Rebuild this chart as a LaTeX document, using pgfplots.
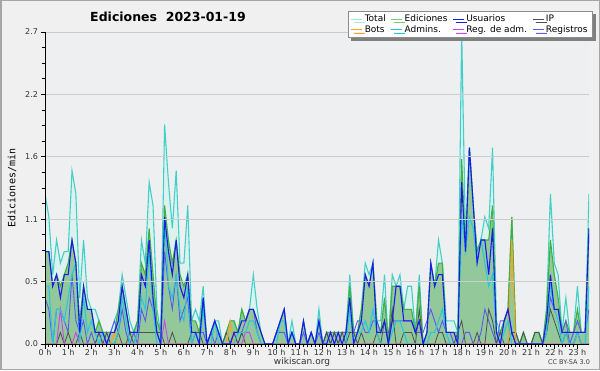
\documentclass[border=0pt]{standalone}
\usepackage{fontspec}
\setmainfont{DejaVu Sans}
\setmonofont{DejaVu Sans Mono}
\usepackage{pgfplots}
\pgfplotsset{compat=1.18}
\usepackage{pgfplotstable}
\usetikzlibrary{shadows}

\definecolor{outerbg}{HTML}{F0F0F0}
\definecolor{plotbg}{HTML}{EDEFF1}
\definecolor{totline}{HTML}{40D0C8}
\definecolor{totfill}{HTML}{DCF2EE}
\definecolor{totleg}{HTML}{A0E8E0}
\definecolor{edline}{HTML}{40B040}
\definecolor{edleg}{HTML}{70D070}
\definecolor{edfill}{HTML}{92C89A}
\definecolor{usline}{HTML}{1A1AF0}
\definecolor{ipline}{HTML}{505050}
\definecolor{botline}{HTML}{FFA020}
\definecolor{admline}{HTML}{20C8E0}
\definecolor{regadm}{HTML}{D040F0}
\definecolor{regline}{HTML}{5A5AF0}

\pgfplotstableread{
i T E U I B A M R
0 1.3 0.8 0.8 0 0 0.5 0 0.4
1 1.1 0.8 0.8 0 0 0.5 0 0.3
2 0.6 0.5 0.5 0 0 0 0 0
3 0.9 0.6 0.6 0 0 0.3 0 0.3
4 0.7 0.5 0.4 0.1 0 0.3 0.3 0.3
5 0.8 0.6 0.6 0 0 0.2 0 0.2
6 0.8 0.7 0.6 0.1 0 0.4 0 0.1
7 1.5 0.9 0.9 0 0 0.6 0 0.6
8 1.3 0.7 0.7 0 0 0.7 0.1 0.2
9 0.4 0.2 0.1 0.1 0 0 0 0.1
10 0.9 0.5 0.5 0 0 0.4 0 0.2
11 0.4 0.3 0.3 0 0 0.1 0 0
12 0.3 0.3 0.3 0 0 0.2 0 0.1
13 0.3 0.1 0.1 0 0 0.1 0 0
14 0.2 0.2 0.1 0.1 0 0 0 0.1
15 0.1 0.1 0.1 0 0 0.1 0 0
16 0.1 0.1 0 0.1 0 0 0 0
17 0.1 0.1 0.1 0 0 0 0 0.1
18 0.2 0.1 0.1 0 0.1 0 0 0.2
19 0.3 0.3 0.2 0.1 0 0.1 0 0.1
20 0.6 0.5 0.5 0 0 0.4 0 0.3
21 0.4 0.3 0.3 0 0 0.2 0 0.1
22 0.2 0.1 0.1 0.1 0 0 0 0
23 0.1 0.1 0.1 0 0 0 0 0.1
24 0.2 0.2 0.1 0.1 0 0.1 0 0
25 0.9 0.7 0.6 0.1 0 0.4 0 0.3
26 0.7 0.6 0.5 0.1 0 0.3 0 0.2
27 1.4 1.0 0.9 0.1 0 0.8 0 0.4
28 1.2 0.6 0.4 0.1 0 0.3 0 0.3
29 0.3 0.2 0.1 0.1 0 0 0 0.1
30 0.1 0.1 0 0.1 0 0 0 0
31 1.9 1.2 1.1 0 0 1.1 0.2 0.8
32 1.4 0.9 0.8 0 0 0.5 0 0.5
33 1.0 0.7 0.6 0.1 0 0.4 0 0.3
34 1.5 0.9 0.9 0 0 0.6 0 0.6
35 0.7 0.6 0.5 0 0 0.3 0 0.2
36 0.7 0.5 0.4 0 0 0.2 0 0.3
37 1.2 0.6 0.6 0 0 0.5 0 0.4
38 0.2 0.2 0.1 0.1 0 0 0 0
39 0.3 0.2 0.1 0.1 0 0.1 0 0.1
40 0.2 0.1 0 0.1 0 0 0 0.1
41 0.5 0.4 0.4 0 0 0.3 0 0.1
42 0 0 0 0 0 0 0 0
43 0.1 0.1 0.1 0 0 0 0 0.1
44 0.2 0.2 0.2 0 0 0.2 0 0
45 0.2 0.1 0.1 0 0 0 0 0.1
46 0 0 0 0 0 0 0 0
47 0.1 0.1 0 0.1 0 0 0 0
48 0.2 0.2 0 0 0.2 0 0 0
49 0.2 0.2 0.1 0.1 0 0 0 0.1
50 0.1 0.1 0.1 0 0 0.1 0 0
51 0.3 0.3 0.2 0.1 0 0.1 0 0.1
52 0.2 0.2 0.2 0 0 0.1 0.1 0.2
53 0.3 0.3 0.3 0 0 0.2 0.1 0.3
54 0.6 0.3 0.3 0 0 0.2 0 0.3
55 0.3 0.2 0.2 0 0 0.1 0 0.1
56 0.1 0.1 0.1 0 0 0 0 0
57 0 0 0 0 0 0 0 0
58 0 0 0 0 0 0 0 0
59 0 0 0 0 0 0 0 0
60 0.1 0.1 0.1 0 0 0 0 0.1
61 0.2 0.2 0.2 0 0 0.2 0 0.1
62 0.3 0.3 0.3 0 0 0.2 0 0.1
63 0 0 0 0 0 0 0 0
64 0.2 0.1 0.1 0 0 0.1 0 0.1
65 0 0 0 0 0 0 0 0
66 0 0 0 0 0 0 0 0
67 0.2 0.2 0.2 0 0 0 0 0.1
68 0 0 0 0 0 0 0 0
69 0.1 0.1 0.1 0 0 0 0 0.1
70 0 0 0 0 0 0 0 0
71 0.3 0.2 0.2 0 0 0.2 0 0.1
72 0 0 0 0 0 0 0 0
73 0.1 0.1 0 0.1 0 0 0 0.1
74 0.1 0.1 0.1 0 0 0 0 0
75 0.1 0.1 0 0.1 0 0 0 0.1
76 0.1 0.1 0.1 0 0 0 0 0
77 0.1 0.1 0 0.1 0 0 0 0.1
78 0.1 0.1 0.1 0 0 0 0 0.1
79 0.6 0.5 0.4 0.1 0 0.3 0 0.1
80 0.1 0.1 0 0.1 0 0 0 0.1
81 0.1 0.1 0.1 0 0 0.1 0 0.2
82 0.3 0.3 0.2 0.1 0 0.1 0 0.2
83 0.7 0.6 0.6 0 0 0.2 0 0.1
84 0.6 0.5 0.5 0 0 0.1 0 0.1
85 0.7 0.7 0.7 0 0 0.3 0 0.2
86 0.2 0.2 0.1 0.1 0 0.1 0 0.2
87 0.2 0.1 0.1 0 0 0 0 0.1
88 0.6 0.4 0.2 0.2 0 0 0 0.1
89 0 0 0 0 0 0 0 0.1
90 0.6 0.5 0.2 0.3 0 0.1 0 0.2
91 0.5 0.5 0.5 0 0 0.2 0 0.2
92 0.6 0.5 0.5 0 0 0.2 0 0.2
93 0.3 0.3 0.2 0.1 0 0.1 0 0.2
94 0.5 0.3 0.2 0.1 0 0 0 0.2
95 0.5 0.3 0.2 0.1 0 0 0 0.2
96 0.1 0.1 0.1 0 0 0 0 0.1
97 0.6 0.5 0.2 0.3 0 0 0 0.1
98 0 0 0 0 0 0 0 0.1
99 0.1 0.1 0.1 0 0 0 0 0.2
100 0.7 0.7 0.7 0 0 0.1 0 0.3
101 0.5 0.5 0.5 0 0 0.1 0 0.2
102 0.9 0.7 0.6 0.1 0 0.2 0 0.1
103 0.7 0.7 0.6 0.1 0 0.3 0 0.2
104 0.2 0.1 0.1 0 0 0.1 0 0.1
105 0.2 0.1 0.1 0 0 0 0 0.1
106 0.2 0.1 0.1 0 0 0 0 0
107 0.1 0.1 0 0.1 0 0 0 0
108 2.7 1.6 1.4 0.2 0 1.1 0 0
109 0.9 0.8 0.8 0 0 0.8 0 0.1
110 1.7 1.7 1.7 0 0 1.1 0 0.1
111 1.2 1.2 1.2 0 0 1.0 0 0
112 0.8 0.8 0.7 0.1 0 0.7 0 0
113 0.9 0.9 0.9 0 0 0.9 0 0.1
114 1.1 0.9 0.9 0 0 0.7 0 0.3
115 1.0 0.9 0.6 0.3 0 0.5 0 0.2
116 1.7 1.2 1.0 0.2 0 0.6 0 0.1
117 0.2 0.1 0.1 0 0 0.1 0 0
118 0.1 0.1 0 0.1 0 0 0 0.2
119 0.2 0.2 0.2 0 0 0.1 0 0.2
120 0.3 0.3 0.3 0 0 0.2 0 0.3
121 1.1 1.1 0.1 0.1 0.9 0 0 0.1
122 0.1 0.1 0 0.1 0 0 0 0
123 0 0 0 0 0 0 0 0
124 0.1 0.1 0 0.1 0 0 0 0
125 0 0 0 0 0 0 0 0
126 0 0 0 0 0 0 0 0
127 0.1 0.1 0 0.1 0 0 0 0
128 0.1 0.1 0 0.1 0 0 0 0
129 0 0 0 0 0 0 0 0
130 0.3 0.3 0.2 0.1 0 0.1 0 0.1
131 1.3 0.9 0.6 0.3 0 0.5 0 0.4
132 0.7 0.6 0.3 0.2 0 0.3 0 0.3
133 0.6 0.4 0.3 0.1 0 0.2 0 0.3
134 0.1 0.1 0.1 0 0 0 0 0.1
135 0.4 0.2 0.1 0.1 0 0.1 0 0.2
136 0.1 0.1 0.1 0 0 0 0 0
137 0.1 0.1 0.1 0 0 0 0 0.1
138 0.5 0.3 0.1 0.1 0 0.1 0.1 0.2
139 0.1 0.1 0.1 0 0 0 0 0.1
140 0.1 0.1 0.1 0 0 0 0 0.1
141 1.3 1.0 1.0 0 0 0.5 0 0.3
}\data

\begin{document}
\begin{tikzpicture}
\useasboundingbox (0,0) rectangle (600pt,370pt);
\fill[outerbg] (0,0) rectangle (600pt,370pt);
\draw[black!35, line width=1.5pt] (0.75pt,0.75pt) rectangle (599.25pt,369.25pt);
\begin{axis}[
  at={(45pt,26pt)}, anchor=south west,
  scale only axis, width=544pt, height=312pt,
  xmin=0, xmax=141, ymin=0, ymax=2.7,
  axis on top,
  axis lines*=left,
  axis line style={black, line width=0.9pt, -},
  axis background/.style={fill=plotbg},
  xtick={0,6,...,138},
  xticklabels={0 h,1 h,2 h,3 h,4 h,5 h,6 h,7 h,8 h,9 h,10 h,11 h,12 h,13 h,14 h,15 h,16 h,17 h,18 h,19 h,20 h,21 h,22 h,23 h},
  minor x tick num=5,
  ytick={0,0.54,1.08,1.62,2.16,2.7},
  yticklabels={0.0,0.5,1.1,1.6,2.2,2.7},
  minor y tick num=3,
  tick align=outside,
  major tick length=4.5pt, minor tick length=3pt,
  tick style={black, line width=0.8pt},
  ymajorgrids,
  major grid style={color=black!20, line width=0.7pt},
  tick label style={font=\fontsize{8}{9}\selectfont, text=black!80},
  xticklabel style={yshift=3pt},
  yticklabel style={xshift=1pt},
  legend columns=4,
  legend cell align=left,
  legend style={at={(1.007,1.067)}, anchor=north east,
    draw=black!45, fill=white, line width=0.6pt,
    font=\fontsize{9}{10}\selectfont,
    inner xsep=3pt, inner ysep=1.5pt,
    row sep=-1.5pt,
    drop shadow={shadow xshift=3pt, shadow yshift=-3pt, fill=black!50, opacity=1},
    /tikz/every even column/.append style={column sep=3pt}},
  legend image code/.code={\draw[#1, line width=0.9pt] (0pt,0pt) -- (11pt,0pt);},
]
\addplot[draw=none, fill=totfill, forget plot] table[x=i,y=T]{\data} \closedcycle;
\addplot[draw=none, fill=edfill, forget plot] table[x=i,y=E]{\data} \closedcycle;
\addplot[totline, line width=1.1pt, forget plot] table[x=i,y=T]{\data};
\addplot[edline, line width=1.1pt, forget plot] table[x=i,y=E]{\data};
\addplot[regline, line width=0.9pt, forget plot] table[x=i,y=R]{\data};
\addplot[ipline, line width=0.8pt, forget plot] table[x=i,y=I]{\data};
\addplot[botline, line width=1pt, forget plot] table[x=i,y=B]{\data};
\addplot[regadm, line width=0.9pt, forget plot] table[x=i,y=M]{\data};
\addplot[admline, line width=1pt, forget plot] table[x=i,y=A]{\data};
\addplot[usline, line width=1.1pt, forget plot] table[x=i,y=U]{\data};

\addlegendimage{totleg}\addlegendentry{Total}
\addlegendimage{edleg}\addlegendentry{Ediciones}
\addlegendimage{usline}\addlegendentry{Usuarios}
\addlegendimage{ipline}\addlegendentry{IP}
\addlegendimage{botline}\addlegendentry{Bots}
\addlegendimage{admline}\addlegendentry{Admins.}
\addlegendimage{regadm}\addlegendentry{Reg. de adm.}
\addlegendimage{regline}\addlegendentry{Registros}
\end{axis}
\node at (168pt,353pt) {\bfseries\fontsize{12.5}{14}\selectfont Ediciones\ \ 2023-01-19};
\node[rotate=90] at (12pt,182pt) {\ttfamily\fontsize{10}{12}\selectfont Ediciones/min};
\node[text=black!80] at (302pt,8pt) {\fontsize{9}{10}\selectfont wikiscan.org};
\node[text=black!75] at (569pt,8pt) {\fontsize{6.5}{7}\selectfont CC BY-SA 3.0};
\end{tikzpicture}
\end{document}
